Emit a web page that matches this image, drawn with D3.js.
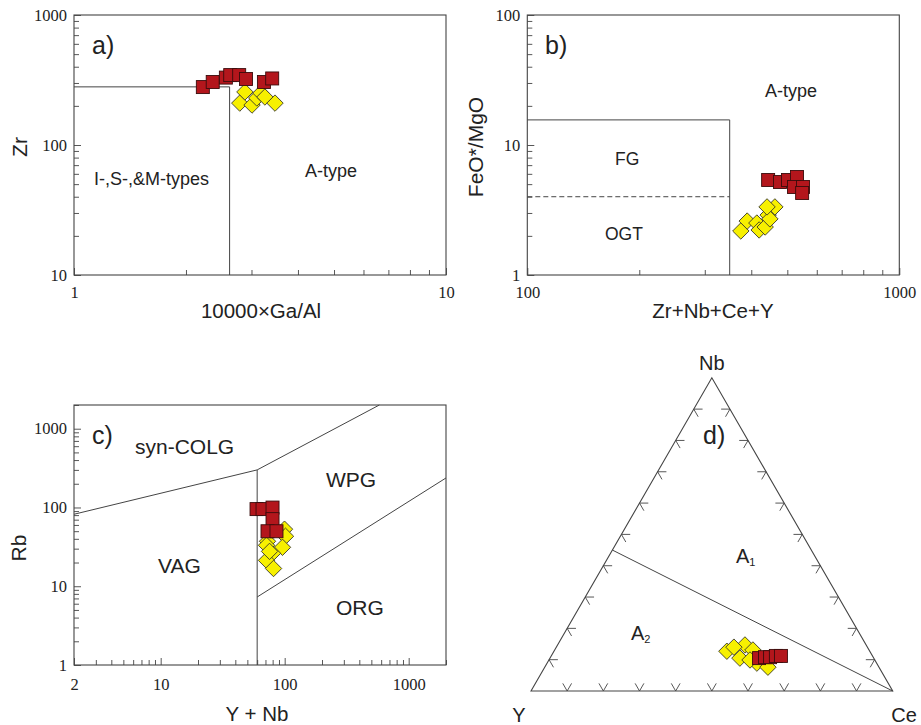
<!DOCTYPE html>
<html>
<head>
<meta charset="utf-8">
<script src="https://cdn.jsdelivr.net/npm/d3@7"></script>
<style>
  body { margin: 0; background: #fff; }
  svg { display: block; }
</style>
</head>
<body>
<svg id="fig" width="921" height="725"></svg>
<script>
// ---------- (a) Zr vs 10000*Ga/Al ----------
const aGaAlSq = [2.22, 2.36, 2.56, 2.63, 2.78, 2.90, 3.24, 3.41];
const aZrSq   = [279, 305, 330, 345, 345, 322, 305, 325];
const aGaAlDm = [2.79, 2.88, 3.01, 3.10, 3.18, 3.26, 3.47];
const aZrDm   = [210, 256, 203, 230, 251, 234, 210];
const aXLabels = [1, 10];
const aYLabels = [10, 100, 1000];
const aBoundGaAl = 2.62;   // vertical divider
const aBoundZr = 280;      // horizontal divider

// ---------- (b) FeO*/MgO vs Zr+Nb+Ce+Y ----------
const bSumSq = [444, 478, 502, 531, 521, 551, 548];
const bFeMgSq = [5.38, 5.19, 5.38, 5.67, 4.75, 4.75, 4.27];
const bSumDm = [375, 390, 414, 420, 436, 444, 449, 463, 441];
const bFeMgDm = [2.18, 2.60, 2.51, 2.22, 2.34, 2.89, 2.70, 3.34, 3.34];
const bXLabels = [100, 1000];
const bYLabels = [1, 10, 100];
const bFgSum = 350, bFgTop = 15.6, bOgtTop = 4.0;

// ---------- (c) Rb vs Y+Nb ----------
const cYNbSq = [59.3, 66.3, 79.8, 79.8, 72.7, 85.9];
const cRbSq  = [95.4, 95.4, 99.7, 71.1, 49.9, 49.9];
const cYNbDm = [72.7, 99.7, 101.5, 96.0, 79.8, 71.4, 71.4, 81.3, 75.5];
const cRbDm  = [37.2, 53.0, 43.1, 31.2, 26.2, 33.1, 21.3, 16.8, 27.7];
const cXLabels = [2, 10, 100, 1000];
const cYLabels = [1, 10, 100, 1000];
// field boundaries as [Y+Nb, Rb] vertices
const cSynVag = [[2, 82], [60, 300]];
const cSynWpg = [[60, 300], [580, 2000]];
const cVagLine = [[60, 300], [60, 1]];
const cWpgOrg = [[60, 7.3], [2000, 237]];

// ---------- (d) Nb - Y - Ce ternary (fractions) ----------
const dYDm  = [0.395, 0.335, 0.370, 0.321, 0.331, 0.307, 0.369, 0.345];
const dNbDm = [0.127, 0.147, 0.105, 0.131, 0.089, 0.076, 0.140, 0.099];
const dCeDm = [0.478, 0.518, 0.525, 0.548, 0.580, 0.617, 0.491, 0.556];
const dYSq  = [0.317, 0.299, 0.285, 0.267, 0.253];
const dNbSq = [0.105, 0.108, 0.108, 0.112, 0.112];
const dCeSq = [0.578, 0.593, 0.607, 0.621, 0.635];
const dBoundNb = 0.45;     // A1/A2 divider meets the Y-Nb side here
const dTickSteps = [0.1, 0.2, 0.3, 0.4, 0.5, 0.6, 0.7, 0.8, 0.9];

const SANS = "'Liberation Sans', Arial, Helvetica, sans-serif";
const SERIF = "'Liberation Serif', 'Times New Roman', serif";
const INK = "#222";
const LINE = "#444";
const SQ_FILL = "#b3161c", SQ_STROKE = "#3a0c0c";
const DM_FILL = "#f7f000", DM_STROKE = "#3a3a2a";

const svg = d3.select("#fig");
svg.append("rect").attr("width", 921).attr("height", 725).attr("fill", "#fff");

function text(g, str, x, y, opts = {}) {
  return g.append("text")
    .attr("x", x).attr("y", y)
    .attr("font-family", opts.family || SANS)
    .attr("font-size", opts.size || 18)
    .attr("text-anchor", opts.anchor || "start")
    .attr("fill", INK)
    .attr("transform", opts.rotate ? `rotate(${opts.rotate},${x},${y})` : null)
    .text(str);
}

function squares(g, pts) {
  g.selectAll(null).data(pts).join("rect")
    .attr("x", d => d[0] - 6.5).attr("y", d => d[1] - 6.5)
    .attr("width", 13).attr("height", 13)
    .attr("fill", SQ_FILL).attr("stroke", SQ_STROKE).attr("stroke-width", 0.9);
}

function diamonds(g, pts) {
  const r = 8.2;
  g.selectAll(null).data(pts).join("path")
    .attr("d", d => `M${d[0]},${d[1] - r}L${d[0] + r},${d[1]}L${d[0]},${d[1] + r}L${d[0] - r},${d[1]}Z`)
    .attr("fill", DM_FILL).attr("stroke", DM_STROKE).attr("stroke-width", 0.9);
}

// Log-log frame with inward ticks and serif numbers
function logFrame(x, y, xLabels, yLabels, padX, padY) {
  const g = svg.append("g");
  const [x0, x1] = x.range(), [y0, y1] = y.range();
  const styleAxis = (ax, labels, horiz) => {
    ax.select(".domain").remove();
    ax.selectAll(".tick line")
      .attr("stroke", LINE).attr("stroke-width", 0.9)
      .attr(horiz ? "y2" : "x2", d => labels.includes(d) ? -8 : -5)
      .attr(horiz ? "y2" : "x2", d => (labels.includes(d) ? 7 : 5) * (horiz ? -1 : 1));
    ax.selectAll(".tick text")
      .attr("font-family", SERIF).attr("font-size", 16.5).attr("fill", INK);
  };
  g.append("g").attr("transform", `translate(0,${y0})`)
    .call(d3.axisBottom(x).tickValues(x.ticks()).tickSize(-5).tickPadding(padX)
      .tickFormat(d => xLabels.includes(d) ? String(d) : ""))
    .call(ax => styleAxis(ax, xLabels, true));
  g.append("g").attr("transform", `translate(${x0},0)`)
    .call(d3.axisLeft(y).tickValues(y.ticks()).tickSize(-5).tickPadding(padY)
      .tickFormat(d => yLabels.includes(d) ? String(d) : ""))
    .call(ax => styleAxis(ax, yLabels, false));
  g.append("rect").attr("x", x0).attr("y", y1)
    .attr("width", x1 - x0).attr("height", y0 - y1)
    .attr("fill", "none").attr("stroke", LINE).attr("stroke-width", 1.1);
  return g;
}

function polyline(g, pts) {
  g.append("path").attr("d", d3.line()(pts))
    .attr("fill", "none").attr("stroke", LINE).attr("stroke-width", 1);
}

// ===== Panel a =====
{
  const x = d3.scaleLog().domain([1, 10]).range([74, 446]);
  const y = d3.scaleLog().domain([10, 1000]).range([275, 15]);
  const g = logFrame(x, y, aXLabels, aYLabels, 11, 7);
  polyline(g, [[x(1), y(aBoundZr)], [x(aBoundGaAl), y(aBoundZr)], [x(aBoundGaAl), y(10)]]);
  text(g, "a)", 92, 54, { size: 25 });
  text(g, "I-,S-,&M-types", 94, 185, { size: 18 });
  text(g, "A-type", 305, 177, { size: 18 });
  text(g, "10000×Ga/Al", 261, 318, { size: 20.5, anchor: "middle" });
  text(g, "Zr", 27, 147, { size: 21, anchor: "middle", rotate: -90 });
  diamonds(g, aGaAlDm.map((v, i) => [x(v), y(aZrDm[i])]));
  squares(g, aGaAlSq.map((v, i) => [x(v), y(aZrSq[i])]));
}

// ===== Panel b =====
{
  const x = d3.scaleLog().domain([100, 1000]).range([527.3, 899.3]);
  const y = d3.scaleLog().domain([1, 100]).range([275, 15]);
  const g = logFrame(x, y, bXLabels, bYLabels, 11, 7);
  polyline(g, [[x(100), y(bFgTop)], [x(bFgSum), y(bFgTop)], [x(bFgSum), y(1)]]);
  g.append("line").attr("x1", x(100)).attr("x2", x(bFgSum))
    .attr("y1", y(bOgtTop)).attr("y2", y(bOgtTop))
    .attr("stroke", LINE).attr("stroke-width", 1).attr("stroke-dasharray", "5,3");
  text(g, "b)", 545, 54, { size: 25 });
  text(g, "A-type", 765, 97, { size: 18 });
  text(g, "FG", 615, 165, { size: 17.5 });
  text(g, "OGT", 605, 240, { size: 17.5 });
  text(g, "Zr+Nb+Ce+Y", 713, 318, { size: 20.5, anchor: "middle" });
  text(g, "FeO*/MgO", 483, 147, { size: 21, anchor: "middle", rotate: -90 });
  diamonds(g, bSumDm.map((v, i) => [x(v), y(bFeMgDm[i])]));
  squares(g, bSumSq.map((v, i) => [x(v), y(bFeMgSq[i])]));
}

// ===== Panel c =====
{
  const x = d3.scaleLog().domain([2, 2000]).range([74, 446]);
  const y = d3.scaleLog().domain([1, 2000]).range([665, 405]);
  const g = logFrame(x, y, cXLabels, cYLabels, 13, 7);
  const pt = d => [x(d[0]), y(d[1])];
  polyline(g, cSynVag.map(pt));
  polyline(g, cSynWpg.map(pt));
  polyline(g, cVagLine.map(pt));
  polyline(g, cWpgOrg.map(pt));
  text(g, "c)", 92, 444, { size: 25 });
  text(g, "syn-COLG", 135, 454, { size: 21 });
  text(g, "WPG", 326, 487, { size: 21 });
  text(g, "VAG", 158, 573, { size: 21 });
  text(g, "ORG", 336, 615, { size: 21 });
  text(g, "Y + Nb", 257, 721, { size: 20.5, anchor: "middle" });
  text(g, "Rb", 26, 548, { size: 21, anchor: "middle", rotate: -90 });
  diamonds(g, cYNbDm.map((v, i) => [x(v), y(cRbDm[i])]));
  squares(g, cYNbSq.map((v, i) => [x(v), y(cRbSq[i])]));
}

// ===== Panel d (ternary) =====
{
  const g = svg.append("g");
  const tx = d3.scaleLinear().domain([0, 1]).range([531, 892.7]);
  const ty = d3.scaleLinear().domain([0, 1]).range([691, 377.8]);
  const tern = (yv, nb, ce) => [tx(ce + nb / 2), ty(nb)];
  const vY = tern(1, 0, 0), vNb = tern(0, 1, 0), vCe = tern(0, 0, 1);
  g.append("path").attr("d", d3.line()([vY, vNb, vCe]) + "Z")
    .attr("fill", "none").attr("stroke", LINE).attr("stroke-width", 1.1);

  // paired tick marks along each side
  const L = 8.8, c60 = 0.5, s60 = Math.sqrt(3) / 2;
  const ticks = [];
  dTickSteps.forEach(f => {
    const b = tern(1 - f, 0, f);
    ticks.push([b, [b[0] - c60 * L, b[1] - s60 * L]], [b, [b[0] + c60 * L, b[1] - s60 * L]]);
    const l = tern(1 - f, f, 0);
    ticks.push([l, [l[0] + L, l[1]]], [l, [l[0] + c60 * L, l[1] + s60 * L]]);
    const r = tern(0, f, 1 - f);
    ticks.push([r, [r[0] - L, r[1]]], [r, [r[0] - c60 * L, r[1] + s60 * L]]);
  });
  g.selectAll(null).data(ticks).join("line")
    .attr("x1", d => d[0][0]).attr("y1", d => d[0][1])
    .attr("x2", d => d[1][0]).attr("y2", d => d[1][1])
    .attr("stroke", LINE).attr("stroke-width", 0.9);

  polyline(g, [tern(1 - dBoundNb, dBoundNb, 0), vCe]);

  text(g, "Nb", vNb[0], 370, { size: 20, anchor: "middle" });
  text(g, "Y", 519, 722, { size: 20, anchor: "middle" });
  text(g, "Ce", 904, 722, { size: 20, anchor: "middle" });
  text(g, "d)", 703, 444, { size: 25 });
  const a1 = text(g, "A", 736, 563, { size: 20 });
  a1.append("tspan").attr("font-size", 11).attr("dy", 3).text("1");
  const a2 = text(g, "A", 631, 640, { size: 20 });
  a2.append("tspan").attr("font-size", 11).attr("dy", 3).text("2");

  diamonds(g, dYDm.map((v, i) => tern(v, dNbDm[i], dCeDm[i])));
  squares(g, dYSq.map((v, i) => tern(v, dNbSq[i], dCeSq[i])));
}
</script>
</body>
</html>
